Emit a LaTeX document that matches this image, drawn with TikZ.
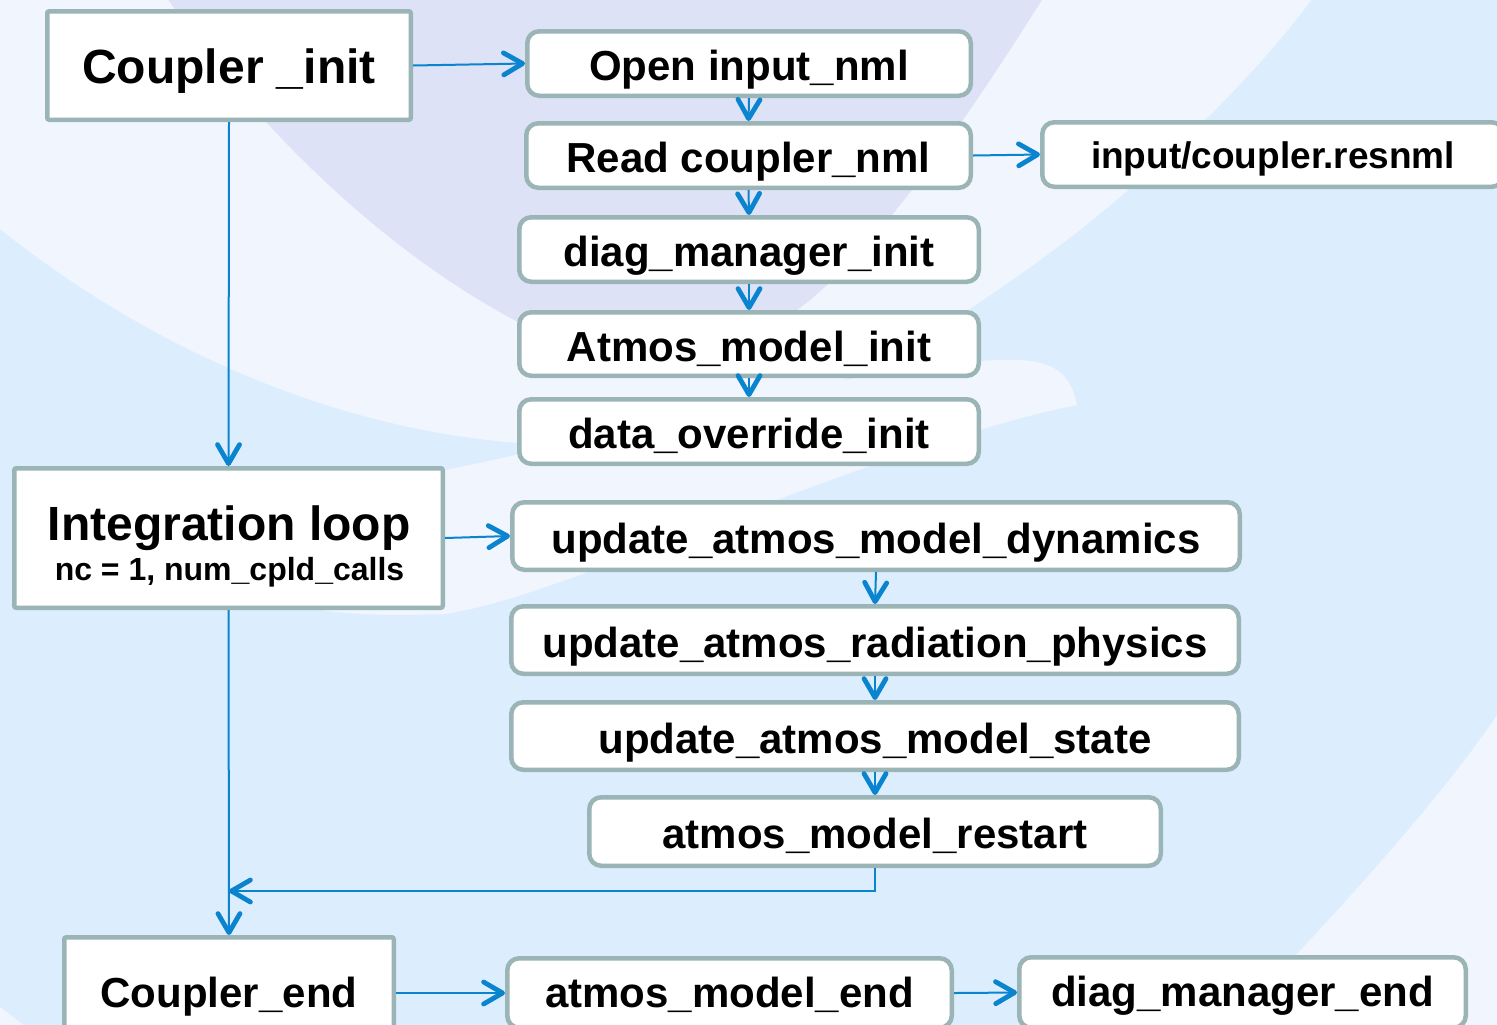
\documentclass[tikz,border=0pt]{standalone}
\usepackage{fontspec}
\setmainfont{Liberation Sans}
\usetikzlibrary{arrows.meta}
\definecolor{bgblue}{HTML}{DCEEFD}
\definecolor{bgwhite}{HTML}{F0F5FE}
\definecolor{bglav}{HTML}{DDE2F7}
\definecolor{bordergray}{HTML}{9BB4B6}
\definecolor{arrblue}{HTML}{0A84CE}
\begin{document}
\begin{tikzpicture}[x=0.5pt,y=-0.5pt,
  box/.style={draw=bordergray, line width=2.25pt, fill=white, rounded corners=6pt,
    inner sep=0pt, text height=19.5pt, text depth=2.5pt,
    font=\fontsize{21}{25}\selectfont\bfseries},
  lowbox/.style={box, text height=19pt, text depth=5pt},
  sqbox/.style={box, rounded corners=1pt},
  bigfont/.style={font=\fontsize{24}{28}\selectfont\bfseries},
  arr/.style={draw=arrblue, line width=1pt,
    -{Straight Barb[length=9.5pt,width=11pt,line width=2.4pt,round]}}]
\useasboundingbox (0,0) rectangle (1497,1024);
% background
\begin{scope}
\clip (0,0) rectangle (1497,1024);
\fill[bgblue] (-5,-5) rectangle (1505,1030);
\fill[bgwhite] (-5,225) .. controls (150,350) and (350,440) .. (560,445)
  .. controls (760,455) and (950,330) .. (1080,230)
  .. controls (1180,150) and (1260,70) .. (1315,-5) -- (-5,-5) -- cycle;
\fill[bglav] (165,-5) .. controls (250,120) and (380,250) .. (520,323)
  .. controls (620,375) and (720,360) .. (790,315)
  .. controls (870,260) and (960,130) .. (1045,-5) -- cycle;
\fill[bgwhite] (1077,405) .. controls (1070,370) and (1050,358) .. (1000,360)
  .. controls (850,365) and (600,440) .. (445,470)
  .. controls (350,490) and (280,520) .. (250,560)
  .. controls (260,610) and (330,618) .. (445,614)
  .. controls (500,605) and (550,585) .. (580,575)
  .. controls (750,510) and (950,430) .. (1077,405) -- cycle;
\fill[bgwhite] (1497,715) .. controls (1440,800) and (1340,910) .. (1225,1030)
  -- (1505,1030) -- (1505,715) -- cycle;
\fill[bgwhite] (-5,1003) -- (30,1030) -- (-5,1030) -- cycle;
\end{scope}
% nodes
\node[sqbox, bigfont, text height=20pt, text depth=2.5pt, minimum width=181.75pt, minimum height=54.25pt] (cinit) at (229,65.5) {Coupler \_init};
\node[box, minimum width=221.75pt, minimum height=32.25pt] (open) at (749,63.5) {Open input\_nml};
\node[box, minimum width=222.25pt, minimum height=32.25pt] (read) at (748.5,155.5) {Read coupler\_nml};
\node[box, font=\fontsize{18.5}{22}\selectfont\bfseries, text height=17pt, text depth=3.5pt, minimum width=230.75pt, minimum height=32.25pt] (file) at (1273,154.5) {input/coupler.resnml};
\node[box, minimum width=229.75pt, minimum height=32.25pt] (diag) at (749,249.5) {diag\_manager\_init};
\node[box, minimum width=229.75pt, minimum height=31.75pt] (atmos) at (749,344) {Atmos\_model\_init};
\node[box, minimum width=229.75pt, minimum height=32.25pt] (data) at (749,431.5) {data\_override\_init};
\node[sqbox, minimum width=214.25pt, minimum height=69.75pt] (loop) at (228.5,538) {};
\node[anchor=base, inner sep=0pt, bigfont] (looptitle) at (229,540) {Integration loop};
\node[anchor=base, inner sep=0pt, font=\fontsize{16}{19}\selectfont\bfseries] (loopsub) at (229.5,580) {nc = 1, num\_cpld\_calls};
\node[box, minimum width=363.75pt, minimum height=33.75pt] (dyn) at (876,536) {update\_atmos\_model\_dynamics};
\node[box, minimum width=363.75pt, minimum height=33.75pt] (rad) at (875,640) {update\_atmos\_radiation\_physics};
\node[box, minimum width=363.75pt, minimum height=33.75pt] (state) at (875,736) {update\_atmos\_model\_state};
\node[box, minimum width=285.75pt, minimum height=34.25pt] (restart) at (875,831.5) {atmos\_model\_restart};
\node[sqbox, text height=19pt, text depth=5pt, minimum width=164.75pt, minimum height=55.75pt] (cend) at (229,993) {Coupler\_end};
\node[lowbox, minimum width=222.25pt, minimum height=34.75pt] (amend) at (729.5,993) {atmos\_model\_end};
\node[lowbox, minimum width=223.25pt, minimum height=35.25pt] (dmend) at (1242.5,992.5) {diag\_manager\_end};
\coordinate (joint) at (229,891);
% connectors
\draw[arr] (cinit.east) -- (open.west);
\draw[arr] (cinit.south) -- (loop.north);
\draw[arr] (open.south) -- (read.north);
\draw[arr] (read.east) -- (file.west);
\draw[arr] (read.south) -- (diag.north);
\draw[arr] (diag.south) -- (atmos.north);
\draw[arr] (atmos.south) -- (data.north);
\draw[arr] (loop.east) -- (dyn.west);
\draw[arr] (dyn.south) -- (rad.north);
\draw[arr] (rad.south) -- (state.north);
\draw[arr] (state.south) -- (restart.north);
\draw[arr] (restart.south) |- (joint);
\draw[arr] (loop.south) -- (cend.north);
\draw[arr] (cend.east) -- (amend.west);
\draw[arr] (amend.east) -- (dmend.west);
\end{tikzpicture}
\end{document}
